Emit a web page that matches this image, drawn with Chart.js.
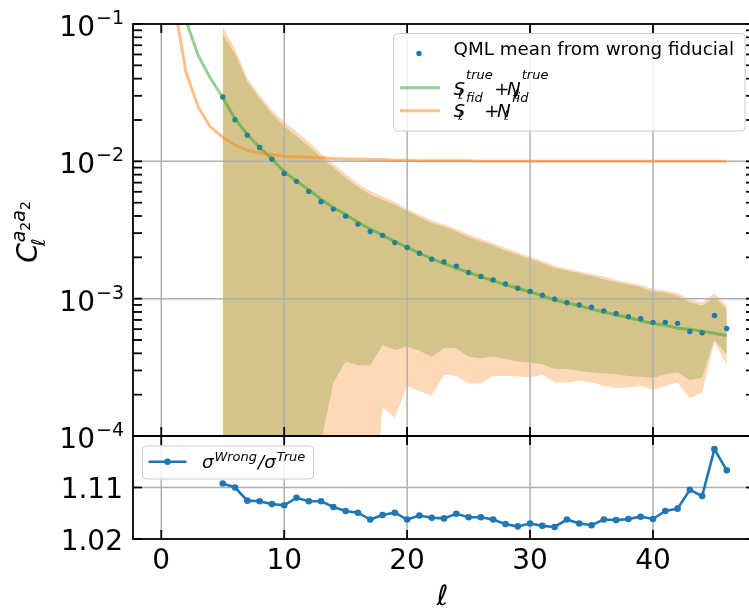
<!DOCTYPE html>
<html>
<head>
<meta charset="utf-8">
<title>QML mean from wrong fiducial</title>
<script src="https://cdn.jsdelivr.net/npm/chart.js@4.4.1/dist/chart.umd.min.js"></script>
<style>
  html, body { margin: 0; padding: 0; background: #fff; overflow: hidden; }
  #wrap { position: relative; width: 760px; height: 608px; }
  #wrap canvas { position: absolute; left: 0; top: 0; }
</style>
</head>
<body>
<div id="wrap">
  <canvas id="spectrum" width="760" height="608"></canvas>
  <canvas id="ratio" width="760" height="608"></canvas>
</div>
<script>
// multipoles of the measured points and of the model curves
const ellData = [5, 6, 7, 8, 9, 10, 11, 12, 13, 14, 15, 16, 17, 18, 19, 20, 21, 22, 23, 24, 25,
  26, 27, 28, 29, 30, 31, 32, 33, 34, 35, 36, 37, 38, 39, 40, 41, 42, 43, 44, 45, 46];
const ellModel = [1, 2, 3, 4, 5, 6, 7, 8, 9, 10, 11, 12, 13, 14, 15, 16, 17, 18, 19, 20, 21, 22, 23,
  24, 25, 26, 27, 28, 29, 30, 31, 32, 33, 34, 35, 36, 37, 38, 39, 40, 41, 42, 43, 44, 45, 46];

// QML mean from wrong fiducial
const qmlMean = [0.0294, 0.0201, 0.0155, 0.0126, 0.01035, 0.00817, 0.00715, 0.00604, 0.00508, 0.00449,
  0.00399, 0.00349, 0.00308, 0.00289, 0.00256, 0.00236, 0.00214, 0.00194, 0.00185, 0.00172,
  0.00155, 0.00145, 0.00137, 0.00128, 0.00119, 0.00113, 0.00106, 0.00099, 0.000935, 0.0009,
  0.000865, 0.000813, 0.000778, 0.000739, 0.000715, 0.000672, 0.000672, 0.000661, 0.000577,
  0.000565, 0.000755, 0.000607];

// S_l + N_l for the true and the fiducial model (null = not plotted)
const trueModel = [null, 0.107, 0.059, 0.0402, 0.0292, 0.0204, 0.0157, 0.0126, 0.0104, 0.0084,
  0.0072, 0.0062, 0.0053, 0.0046, 0.0041, 0.0036, 0.0032, 0.0029, 0.0026, 0.00236, 0.00215,
  0.00196, 0.0018, 0.00167, 0.00155, 0.00144, 0.00135, 0.00126, 0.00119, 0.00112, 0.00105,
  0.00098, 0.00093, 0.00089, 0.00084, 0.0008, 0.00076, 0.00073, 0.00069, 0.00066, 0.00064,
  0.00061, 0.0006, 0.00058, 0.00056, 0.00054];
const fidModel = [0.15, 0.045, 0.0249, 0.0178, 0.015, 0.0131, 0.0121, 0.0115, 0.0112, 0.0109,
  0.0108, 0.0107, 0.0106, 0.0105, 0.0104, 0.0104, 0.0103, 0.0103, 0.0102, 0.0102, 0.0101,
  0.0101, 0.0101, 0.0101, 0.0101, 0.01, 0.01, 0.01, 0.01, 0.01, 0.01, 0.01, 0.01, 0.01, 0.01,
  0.01, 0.01, 0.01, 0.01, 0.01, 0.01, 0.01, 0.01, 0.01, 0.01, 0.01];

// scatter bands (outer one and inner one), lower edges far below the axis where they vanish
const outerHi = [0.0956, 0.066, 0.0402, 0.0303, 0.0236, 0.0194, 0.0164, 0.0138, 0.0114, 0.00962,
  0.00813, 0.00687, 0.00607, 0.00555, 0.00505, 0.00452, 0.00408, 0.00371, 0.00347, 0.00323,
  0.00293, 0.00273, 0.00253, 0.00234, 0.00217, 0.00203, 0.00189, 0.00174, 0.00165, 0.00158,
  0.00151, 0.00145, 0.00137, 0.00131, 0.00126, 0.00118, 0.00114, 0.0011, 0.00098, 0.00094,
  0.00109, 0.00089];
const outerLo = [1e-7, 1e-7, 1e-7, 1e-7, 1e-7, 1e-7, 1e-7, 1e-7, 1e-7, 1e-7, 1e-7, 1e-7,
  1.2e-5, 0.000161, 0.000136, 0.000232, 0.000213, 0.000196, 0.000279, 0.000274, 0.000241,
  0.000241, 0.000274, 0.000274, 0.000271, 0.000267, 0.000279, 0.000245, 0.000245, 0.000252,
  0.000245, 0.000232, 0.000225, 0.000225, 0.000232, 0.000216, 0.000232, 0.000245, 0.000188,
  0.000207, 0.00048, 0.000333];
const innerHi = [0.0845, 0.0611, 0.0379, 0.0287, 0.0223, 0.018, 0.0152, 0.0129, 0.0107, 0.009,
  0.0076, 0.00649, 0.00574, 0.00525, 0.00483, 0.00434, 0.00392, 0.00355, 0.00336, 0.0031,
  0.0028, 0.00262, 0.00244, 0.00224, 0.00208, 0.00196, 0.00181, 0.00167, 0.0016, 0.00153,
  0.00147, 0.00138, 0.00132, 0.00127, 0.00121, 0.00113, 0.00111, 0.00105, 0.00094, 0.00089,
  0.00102, 0.00084];
const innerLo = [1e-7, 1e-7, 1e-7, 1e-7, 1e-7, 1e-7, 1e-7, 1e-7, 9.1e-5, 0.000245, 0.000348,
  0.000328, 0.000328, 0.000459, 0.000422, 0.000446, 0.000417, 0.000377, 0.000436, 0.000436,
  0.000377, 0.000369, 0.000377, 0.000363, 0.000348, 0.000343, 0.000333, 0.000307, 0.000307,
  0.000298, 0.00029, 0.000285, 0.000282, 0.000274, 0.00027, 0.000264, 0.000282, 0.00029,
  0.000255, 0.000266, 0.0005, 0.000394];

// sigma^Wrong / sigma^True
const sigmaRatio = [1.117, 1.110, 1.087, 1.086, 1.081, 1.079, 1.092, 1.086, 1.086, 1.076, 1.069,
  1.066, 1.054, 1.062, 1.066, 1.054, 1.061, 1.057, 1.056, 1.064, 1.058, 1.058, 1.054, 1.046,
  1.042, 1.047, 1.043, 1.041, 1.054, 1.047, 1.044, 1.054, 1.053, 1.055, 1.059, 1.055, 1.069,
  1.073, 1.106, 1.095, 1.177, 1.140];

// ticks
const xTicks = [0, 10, 20, 30, 40];
const xTickLabels = ['0', '10', '20', '30', '40'];
const logMajor = [1e-4, 1e-3, 1e-2, 1e-1];
const ratioTicks = [1.02, 1.11, 1.20];
const ratioTickLabels = ['1.02', '1.11', ''];

const C0 = '#1f77b4';
const FONT = '"DejaVu Sans"';
const TICK = 9;

const xy = (xs, ys) => xs.map((x, i) => ({x: x, y: ys[i]}));

const logMinor = [];
for (let k = 0; k < logMajor.length - 1; k++) {
  for (let m = 2; m <= 9; m++) logMinor.push(logMajor[k] * m);
}

function seg(ctx, x1, y1, x2, y2) {
  ctx.beginPath(); ctx.moveTo(x1, y1); ctx.lineTo(x2, y2); ctx.stroke();
}

function roundBox(ctx, x, y, w, h, r) {
  ctx.beginPath();
  ctx.moveTo(x + r, y);
  ctx.arcTo(x + w, y, x + w, y + h, r);
  ctx.arcTo(x + w, y + h, x, y + h, r);
  ctx.arcTo(x, y + h, x, y, r);
  ctx.arcTo(x, y, x + w, y, r);
  ctx.closePath();
  ctx.fill();
  ctx.stroke();
}

// grid sits above the bands but under the lines
function gridUnder(id, yGrid) {
  return {
    id: id,
    beforeDatasetsDraw(chart) {
      const {ctx, chartArea: a, scales: {x, y}} = chart;
      ctx.save();
      ctx.strokeStyle = '#b0b0b0';
      ctx.lineWidth = 1.5;
      xTicks.forEach(v => { const px = x.getPixelForValue(v); seg(ctx, px, a.top, px, a.bottom); });
      yGrid.forEach(v => { const py = y.getPixelForValue(v); seg(ctx, a.left, py, a.right, py); });
      ctx.restore();
    }
  };
}

function frame(chart, yTicks) {
  const {ctx, chartArea: a, scales: {x, y}} = chart;
  ctx.save();
  ctx.strokeStyle = '#000';
  ctx.lineWidth = 1.8;
  xTicks.forEach(v => {
    const px = x.getPixelForValue(v);
    seg(ctx, px, a.top, px, a.top + TICK);
    seg(ctx, px, a.bottom, px, a.bottom - TICK);
  });
  yTicks.forEach(v => {
    const py = y.getPixelForValue(v);
    seg(ctx, a.left, py, a.left + TICK, py);
    seg(ctx, a.right, py, a.right - TICK, py);
  });
  ctx.strokeRect(a.left, a.top, a.right - a.left, a.bottom - a.top);
  ctx.restore();
}

// italic base with sub/superscript, returns right end
function term(ctx, x, y, base, sub, sup, raise) {
  ctx.font = 'italic 18.3px ' + FONT;
  ctx.fillText(base, x, y);
  const w = ctx.measureText(base).width;
  let end = x + w;
  ctx.font = 'italic 13px ' + FONT;
  if (sub) {
    ctx.fillText(sub, x + w - 7, y + 3.5);
    end = Math.max(end, x + w - 7 + ctx.measureText(sub).width);
  }
  if (sup) {
    ctx.fillText(sup, x + w + 1, y - raise);
    end = Math.max(end, x + w + 1 + ctx.measureText(sup).width);
  }
  return end;
}

function plusTerm(ctx, x, y, sup, raise) {
  let end = term(ctx, x, y, 'S', '\u2113', sup, raise);
  ctx.font = '18.3px ' + FONT;
  ctx.fillText('+', end + 1.5, y);
  end += 1.5 + ctx.measureText('+').width - 2.5;
  term(ctx, end, y, 'N', '\u2113', sup, raise);
}

const spectrumDecor = {
  id: 'spectrumDecor',
  afterDatasetsDraw(chart) {
    const {ctx, chartArea: a, scales: {y}} = chart;
    frame(chart, logMajor.concat(logMinor));
    ctx.save();
    ctx.fillStyle = '#000';
    ctx.textBaseline = 'alphabetic';
    // 10^-n tick labels
    logMajor.forEach(v => {
      const py = y.getPixelForValue(v);
      const sup = '\u2212' + Math.abs(Math.round(Math.log10(v)));
      ctx.font = '19px ' + FONT;
      const ws = ctx.measureText(sup).width;
      ctx.font = '28px ' + FONT;
      const wm = ctx.measureText('10').width;
      const x0 = a.left - 10 - ws - wm;
      ctx.fillText('10', x0, py + 12);
      ctx.font = '19px ' + FONT;
      ctx.fillText(sup, x0 + wm + 1, py);
    });

    // y title C_l^{a2a2}
    const fC = 'italic 28px ' + FONT, fS = 'italic 19px ' + FONT, fSS = '14px ' + FONT;
    ctx.font = fC; const wC = ctx.measureText('C').width;
    ctx.font = fS; const wa = ctx.measureText('a').width;
    ctx.font = fSS; const w2 = ctx.measureText('2').width;
    const total = wC + 1 + 2 * (wa + w2);
    ctx.save();
    ctx.translate(37, (a.top + a.bottom) / 2 + total / 2 + 2);
    ctx.rotate(-Math.PI / 2);
    ctx.font = fC; ctx.fillText('C', 0, 0);
    ctx.font = fS; ctx.fillText('\u2113', wC - 3, 8);
    let u = wC + 1;
    for (let k = 0; k < 2; k++) {
      ctx.font = fS; ctx.fillText('a', u, -12); u += wa;
      ctx.font = fSS; ctx.fillText('2', u, -7); u += w2;
    }
    ctx.restore();

    // legend
    const lx = a.right - 361.5, ly = a.top + 9.5;
    ctx.fillStyle = 'rgba(255,255,255,0.8)';
    ctx.strokeStyle = '#cccccc';
    ctx.lineWidth = 1;
    roundBox(ctx, lx, ly, 351.5, 97.5, 4);

    ctx.fillStyle = C0;
    ctx.beginPath(); ctx.arc(lx + 25.5, ly + 20, 2.7, 0, Math.PI * 2); ctx.fill();
    ctx.lineWidth = 3;
    ctx.strokeStyle = 'rgba(44,160,44,0.5)';
    seg(ctx, lx + 6.5, ly + 54.2, lx + 46.5, ly + 54.2);
    ctx.strokeStyle = 'rgba(255,127,14,0.5)';
    seg(ctx, lx + 6.5, ly + 77.2, lx + 46.5, ly + 77.2);

    ctx.fillStyle = '#000';
    ctx.font = '18.3px ' + FONT;
    ctx.fillText('QML mean from wrong fiducial', lx + 60, ly + 21.5);
    plusTerm(ctx, lx + 60, ly + 61.5, 'true', 16);
    plusTerm(ctx, lx + 60, ly + 83.2, 'fid', 15);
    ctx.restore();
  }
};

const ratioDecor = {
  id: 'ratioDecor',
  afterDatasetsDraw(chart) {
    const {ctx, chartArea: a, scales: {x, y}} = chart;
    frame(chart, ratioTicks);
    ctx.save();
    ctx.fillStyle = '#000';
    ctx.textBaseline = 'alphabetic';
    ctx.font = '28px ' + FONT;
    ctx.textAlign = 'right';
    ratioTicks.forEach((v, i) => {
      if (ratioTickLabels[i]) ctx.fillText(ratioTickLabels[i], a.left - 10, y.getPixelForValue(v) + 10.5);
    });
    ctx.textAlign = 'center';
    xTicks.forEach((v, i) => ctx.fillText(xTickLabels[i], x.getPixelForValue(v), a.bottom + 30));
    ctx.font = 'italic 28px ' + FONT;
    ctx.fillText('\u2113', (a.left + a.right) / 2 - 1.5, a.bottom + 65.5);
    ctx.textAlign = 'left';

    // legend
    const lx = a.left + 9.5, ly = a.top + 10;
    ctx.fillStyle = 'rgba(255,255,255,0.8)';
    ctx.strokeStyle = '#cccccc';
    ctx.lineWidth = 1;
    roundBox(ctx, lx, ly, 171, 33, 4);
    ctx.strokeStyle = C0;
    ctx.fillStyle = C0;
    ctx.lineWidth = 2.6;
    seg(ctx, lx + 6, ly + 15.7, lx + 44, ly + 15.7);
    ctx.beginPath(); ctx.arc(lx + 25, ly + 15.7, 3.3, 0, Math.PI * 2); ctx.fill();

    ctx.fillStyle = '#000';
    let end = term(ctx, lx + 59.5, ly + 22.3, '\u03c3', null, 'Wrong', 7);
    ctx.font = 'italic 18.3px ' + FONT;
    ctx.fillText('/', end + 1, ly + 22.3);
    end += 1 + ctx.measureText('/').width;
    term(ctx, end, ly + 22.3, '\u03c3', null, 'True', 7);
    ctx.restore();
  }
};

const xScale = {type: 'linear', min: -2.3, max: 48.3, display: false};

new Chart(document.getElementById('spectrum'), {
  type: 'line',
  data: {
    datasets: [
      {data: xy(ellData, outerHi), fill: '+1', backgroundColor: 'rgb(255,216,184)', borderWidth: 0, pointRadius: 0, order: 10},
      {data: xy(ellData, outerLo), fill: false, borderWidth: 0, pointRadius: 0, order: 10},
      {data: xy(ellData, innerHi), fill: '+1', backgroundColor: 'rgb(212,196,139)', borderWidth: 0, pointRadius: 0, order: 8},
      {data: xy(ellData, innerLo), fill: false, borderWidth: 0, pointRadius: 0, order: 8},
      {label: 'QML mean from wrong fiducial', data: xy(ellData, qmlMean), showLine: false,
        pointRadius: 2.7, pointBackgroundColor: C0, pointBorderWidth: 0, order: 3},
      {label: 'true', data: xy(ellModel, trueModel), borderColor: 'rgba(44,160,44,0.5)',
        borderWidth: 3, pointRadius: 0, fill: false, order: 2},
      {label: 'fid', data: xy(ellModel, fidModel), borderColor: 'rgba(255,127,14,0.5)',
        borderWidth: 3, pointRadius: 0, fill: false, order: 1}
    ]
  },
  options: {
    responsive: false,
    animation: false,
    devicePixelRatio: 1,
    events: [],
    layout: {padding: {left: 133, top: 24, right: 5, bottom: 172}},
    scales: {
      x: xScale,
      y: {type: 'logarithmic', min: 1e-4, max: 1e-1, display: false}
    },
    plugins: {
      legend: {display: false},
      tooltip: {enabled: false},
      colors: {enabled: false},
      filler: {drawTime: 'beforeDatasetsDraw'}
    }
  },
  plugins: [gridUnder('gridSpectrum', [1e-3, 1e-2]), spectrumDecor]
});

new Chart(document.getElementById('ratio'), {
  type: 'line',
  data: {
    datasets: [
      {label: 'sigma ratio', data: xy(ellData, sigmaRatio), borderColor: C0, backgroundColor: C0,
        borderWidth: 2.6, pointRadius: 3.3, pointBackgroundColor: C0, pointBorderWidth: 0, fill: false}
    ]
  },
  options: {
    responsive: false,
    animation: false,
    devicePixelRatio: 1,
    events: [],
    layout: {padding: {left: 133, top: 436, right: 5, bottom: 69}},
    scales: {
      x: xScale,
      y: {type: 'linear', min: 1.02, max: 1.20, display: false}
    },
    plugins: {
      legend: {display: false},
      tooltip: {enabled: false},
      colors: {enabled: false}
    }
  },
  plugins: [gridUnder('gridRatio', [1.11]), ratioDecor]
});
</script>
</body>
</html>
